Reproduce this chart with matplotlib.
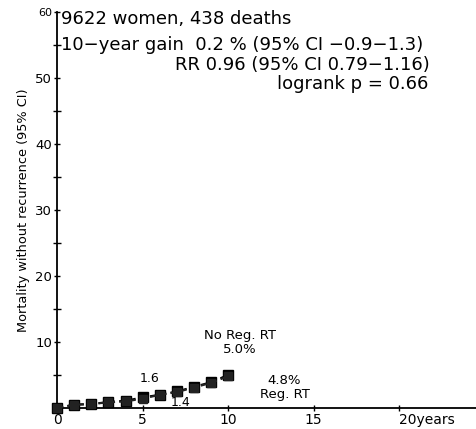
import matplotlib
matplotlib.use("Agg")
import matplotlib.pyplot as plt
from matplotlib.ticker import MultipleLocator
import matplotlib.transforms as mtransforms

years = [0, 1, 2, 3, 4, 5, 6, 7, 8, 9, 10]
no_reg_rt = [0.0, 0.5, 0.6, 0.9, 1.1, 1.6, 2.0, 2.5, 3.2, 3.9, 5.0]
reg_rt = [0.0, 0.5, 0.6, 0.85, 1.0, 1.4, 2.0, 2.4, 3.1, 3.8, 4.8]
x_ticks = [0, 5, 10, 15, 20]
x_tick_labels = ["0", "5", "10", "15", "20years"]
y_ticks = [10, 20, 30, 40, 50, 60]
y_tick_labels = ["10", "20", "30", "40", "50", "60"]

fig = plt.figure(figsize=(4.76, 4.29), dpi=100)
ax = fig.add_axes([0.12, 0.049, 0.88, 0.923])

ax.plot(years, no_reg_rt, color="black", linestyle=(0, (3, 2)), linewidth=1.5,
        marker="s", markersize=6.5, clip_on=False, zorder=3)
ax.plot(years, reg_rt, color="#222222", linestyle=(0, (3, 2)), linewidth=1.5,
        marker="s", markersize=6, clip_on=False, zorder=3)

ax.set_xlim(0, 24.5)
ax.set_ylim(0, 60)
ax.set_xticks(x_ticks)
ax.set_xticklabels(x_tick_labels, fontsize=10)
ax.set_yticks(y_ticks)
ax.set_yticklabels(y_tick_labels, fontsize=9.5)
ax.get_yticklabels()[-1].set_fontsize(8)
last = ax.get_xticklabels()[-1]
last.set_ha("left")
last.set_transform(last.get_transform() + mtransforms.ScaledTranslation(-5 / 100, 0, fig.dpi_scale_trans))
ax.yaxis.set_minor_locator(MultipleLocator(5))
ax.tick_params(axis="both", which="both", direction="inout", length=5, width=1, pad=1)
ax.tick_params(axis="y", which="minor", length=6)
for s in ["top", "right"]:
    ax.spines[s].set_visible(False)
ax.spines["left"].set_linewidth(1.3)
ax.spines["bottom"].set_linewidth(1.3)

ax.set_ylabel("Mortality without recurrence (95% CI)", fontsize=9.3, labelpad=4)

ax.text(0.2, 59.0, "9622 women, 438 deaths", fontsize=13, va="center", ha="left")
ax.text(0.2, 55.0, "10\u2212year gain  0.2 % (95% CI \u22120.9\u22121.3)", fontsize=13,
        va="center", ha="left")
ax.text(21.8, 52.0, "RR 0.96 (95% CI 0.79\u22121.16)", fontsize=13, va="center", ha="right")
ax.text(21.7, 49.1, "logrank p = 0.66", fontsize=13, va="center", ha="right")

ax.text(5.4, 4.5, "1.6", fontsize=9, ha="center", va="center")
ax.text(7.2, 0.8, "1.4", fontsize=9, ha="center", va="center")
ax.text(10.7, 11.0, "No Reg. RT", fontsize=9.5, ha="center", va="center")
ax.text(10.7, 8.8, "5.0%", fontsize=9.5, ha="center", va="center")
ax.text(13.3, 4.1, "4.8%", fontsize=9.5, ha="center", va="center")
ax.text(13.3, 2.0, "Reg. RT", fontsize=9.5, ha="center", va="center")

fig.savefig("out.png", dpi=100)
